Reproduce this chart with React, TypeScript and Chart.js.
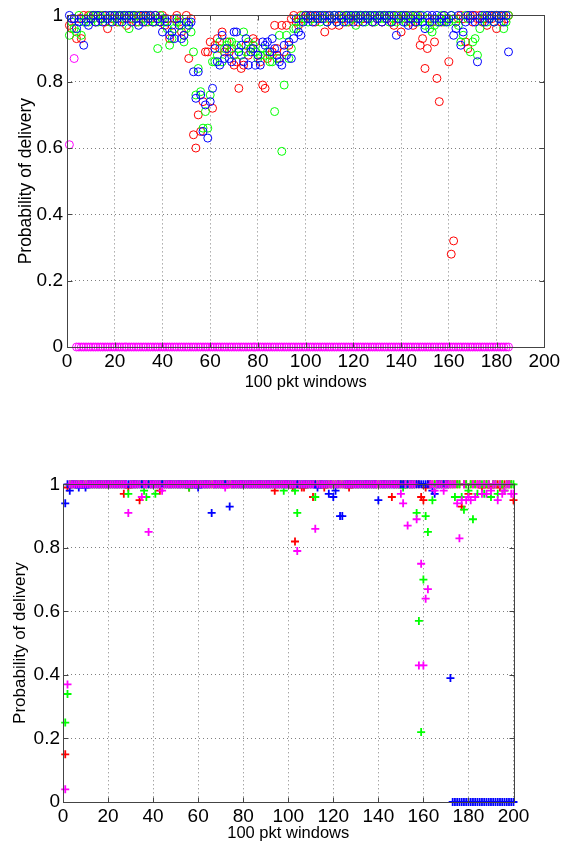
import React, { useEffect, useRef } from 'react';
import { Chart, registerables } from 'chart.js';
Chart.register(...registerables);

const X_TICKS = [0, 20, 40, 60, 80, 100, 120, 140, 160, 180, 200];
const X_TICK_LABELS = ['0', '20', '40', '60', '80', '100', '120', '140', '160', '180', '200'];
const Y_TICKS = [0, 0.2, 0.4, 0.6, 0.8, 1];
const Y_TICK_LABELS = ['0', '0.2', '0.4', '0.6', '0.8', '1'];
const X_TITLE = '100 pkt windows';
const Y_TITLE = 'Probability of delivery';

// Top panel (circles), windows 1..185
const TOP_RED = [
  .97,.96,.99,.93,.99,.93,1,.99,1,.99,
  1,.98,1,.99,1,.98,.96,1,.99,1,
  .98,1,.99,1,.97,1,.99,1,.98,1,
  .99,1,.98,1,.99,.98,1,.99,.98,1,
  .97,.99,.93,.97,.99,1,.98,.95,.94,1,
  .87,.99,.64,.60,.70,.65,.74,.89,.89,.92,
  .72,.91,.93,.90,.95,.89,.92,.89,.90,.85,
  .86,.78,.84,.85,.91,.88,.90,.93,.92,.88,
  .86,.79,.78,.87,.88,.89,.97,.90,.87,.97,
  .89,.97,.91,.99,1,.98,.97,1,.99,1,
  1,.99,1,.98,1,.99,1,.95,1,.99,
  .97,1,.99,.97,1,.99,1,.98,1,.99,
  1,.98,1,.99,1,.99,1,.98,1,.99,
  1,.98,1,.99,1,.98,.97,1,.99,.95,
  1,.99,1,.98,.97,.98,1,.91,.93,.84,
  .90,.99,.98,.92,.81,.74,.98,1,.99,.86,
  .28,.32,.98,.99,1,.99,.92,.90,1,.98,
  1,.99,1,.98,.99,.97,1,.99,1,.96,
  1,.98,1,.99,1,
];
const TOP_GREEN = [
  .94,.98,.96,.95,1,.94,.98,.99,.98,1,
  .99,1,.98,1,.99,1,.99,.98,1,.99,
  1,.98,1,.99,1,.96,1,.99,1,.98,
  1,.99,1,.98,1,.99,.98,.90,1,.99,
  .98,.96,.91,.93,.96,.98,.99,.97,.92,.96,
  .98,.95,.89,.76,.84,.77,.66,.71,.66,.76,
  .86,.86,.88,.92,.86,.90,.91,.92,.92,.88,
  .91,.90,.88,.95,.89,.92,.90,.91,.89,.87,
  .88,.90,.88,.89,.86,.86,.71,.87,.94,.59,
  .79,.94,.87,.90,.96,.96,.99,.98,1,.99,
  .98,1,.99,1,.99,.98,1,.99,.98,1,
  .99,1,.98,1,.99,1,.98,1,.99,1,
  .97,1,.99,1,.98,1,.99,1,.98,1,
  .99,1,.99,1,.98,1,.99,.98,1,.99,
  1,.98,.99,1,.99,1,.98,.99,1,.97,
  .99,.96,.95,.97,.98,.99,1,.98,.99,.98,
  1,.99,.98,.97,.92,.94,1,.99,.89,.92,
  .93,.88,.96,.99,1,.98,.99,1,.98,1,
  .99,1,.96,.98,1,
];
const TOP_BLUE = [
  1,.99,.99,.96,.98,.99,.91,.98,.97,.99,
  1,.98,1,.99,.98,1,.99,1,.98,1,
  .99,1,.98,1,.99,1,.98,1,.99,.97,
  1,.98,1,.99,1,.98,1,.99,.98,.95,
  .99,.98,.94,.95,.93,.99,.97,.93,.94,.98,
  .97,.98,.83,.75,.83,.76,.65,.73,.63,.74,
  .78,.90,.86,.85,.94,.87,.90,.87,.86,.95,
  .95,.89,.91,.86,.93,.85,.89,.90,.85,.88,
  .85,.92,.91,.92,.89,.93,.90,.88,.86,.85,
  .91,.88,.92,.87,.93,.99,.95,.94,.98,1,
  .99,1,.98,1,.99,1,.99,1,.98,1,
  .99,1,.98,1,.99,.98,1,.99,1,.98,
  1,.99,1,.98,1,.99,1,.98,1,.99,
  1,.98,1,.99,1,.98,1,.94,.99,1,
  .98,1,.97,.99,1,.98,.99,1,.98,.96,
  1,.98,1,.99,1,.98,.99,1,.98,.99,
  1,.94,.96,1,.91,.95,.98,1,.99,1,
  .98,.86,.99,1,.98,1,.99,1,.98,1,
  .99,1,.98,1,.89,
];
const TOP_MAGENTA = [
  .61,null,.87,0,0,0,0,0,0,0, 0,0,0,0,0,0,0,0,0,0,
  0,0,0,0,0,0,0,0,0,0, 0,0,0,0,0,0,0,0,0,0,
  0,0,0,0,0,0,0,0,0,0, 0,0,0,0,0,0,0,0,0,0,
  0,0,0,0,0,0,0,0,0,0, 0,0,0,0,0,0,0,0,0,0,
  0,0,0,0,0,0,0,0,0,0, 0,0,0,0,0,0,0,0,0,0,
  0,0,0,0,0,0,0,0,0,0, 0,0,0,0,0,0,0,0,0,0,
  0,0,0,0,0,0,0,0,0,0, 0,0,0,0,0,0,0,0,0,0,
  0,0,0,0,0,0,0,0,0,0, 0,0,0,0,0,0,0,0,0,0,
  0,0,0,0,0,0,0,0,0,0, 0,0,0,0,0,0,0,0,0,0,
  0,0,0,0,0,
];

// Bottom panel (plus markers), windows 1..200
const BOT_RED = [
  .15,.99,1,1,1,1,1,1,1,1,  1,1,1,1,1,1,1,1,1,1,
  1,1,1,1,1,1,.97,1,.99,1,  1,1,1,.95,1,1,1,1,1,1,
  1,1,.98,1,1,1,1,1,1,1,  1,1,1,1,1,.99,1,1,1,1,
  1,1,1,1,1,1,1,1,1,1,  1,1,1,1,1,1,1,1,1,1,
  1,1,1,1,1,1,1,1,1,1,  1,1,1,.98,1,1,1,1,1,1,
  1,.99,.82,1,1,.99,.99,1,1,1,  .96,1,1,1,1,.99,1,1,1,1,
  1,1,1,1,1,1,.99,1,1,1,  1,1,1,1,1,1,1,1,1,1,
  1,1,1,1,1,.96,1,1,1,1,  1,1,1,1,1,1,1,1,.96,.95,
  .99,1,1,1,1,1,1,1,1,1,  1,1,1,1,1,1,.93,1,1,.97,
  1,1,1,1,1,.99,1,1,1,.99,  1,1,1,.99,1,1,1,1,1,.95,
];
const BOT_GREEN = [
  .25,.34,1,1,1,1,1,1,1,1,  1,1,1,1,1,1,1,1,1,1,
  1,1,1,1,1,1,1,1,.97,1,  1,1,1,1,1,.98,.96,1,1,1,
  .97,1,1,1,1,1,1,1,1,1,  1,1,1,1,1,.99,1,1,1,1,
  1,1,1,1,1,1,1,1,1,1,  1,1,1,1,1,1,1,1,1,1,
  1,1,1,1,1,1,1,1,1,1,  1,1,1,1,1,1,1,.98,1,1,
  1,1,.98,.91,1,1,1,1,1,1,  1,.96,1,1,1,1,1,1,1,1,
  1,1,1,1,1,1,1,1,1,1,  1,1,1,1,1,1,1,1,1,1,
  1,1,1,1,1,1,1,1,1,1,  .99,1,1,1,1,1,.91,.57,.22,.70,
  .90,.85,1,.95,1,1,1,1,1,1,  1,1,1,.96,1,1,.96,.92,1,.98,
  1,.89,1,.97,1,1,.97,1,1,.96,  1,1,.97,1,1,.98,1,1,1,1,
];
const BOT_BLUE = [
  .94,1,.98,1,1,1,.99,1,1,.99,  1,1,1,1,1,1,1,1,1,1,
  1,1,1,1,1,1,1,1,1,1,  1,1,1,1,1,1,1,1,1,1,
  1,1,1,1,1,1,1,1,1,1,  1,1,1,1,1,1,1,1,1,.99,
  1,1,1,1,1,.91,1,1,1,1,  1,1,1,.93,1,1,1,1,1,1,
  1,1,1,1,1,1,1,1,1,1,  1,1,1,1,1,1,1,1,1,1,
  1,1,1,1,1,1,1,1,1,1,  1,1,.99,1,1,1,1,.97,1,.96,
  .98,1,.90,.90,1,1,1,1,1,1,  1,1,1,1,1,1,1,1,1,.95,
  1,1,1,1,1,1,1,1,1,1,  1,1,1,1,1,1,1,1,1,1,
  1,1,1,.98,.97,1,1,1,1,1,  1,.39,0,0,0,0,0,0,0,0,
  0,0,0,0,0,0,0,0,0,0,  0,0,0,0,0,0,0,0,0,0,
];
const BOT_MAGENTA = [
  .04,.37,1,1,1,1,1,1,1,1,  1,1,1,1,1,1,1,1,1,1,
  1,1,1,1,1,1,1,1,.91,1,  1,1,1,1,.96,1,1,.85,1,1,
  1,1,1,.98,1,1,1,1,1,1,  1,1,1,1,1,1,1,1,1,1,
  1,1,1,1,1,1,1,1,1,1,  1,.99,1,1,1,1,1,1,1,1,
  1,1,1,1,1,1,1,1,1,1,  1,1,1,1,1,1,1,1,1,1,
  1,1,1,.79,1,1,1,1,1,1,  1,.86,1,1,1,1,1,1,1,1,
  1,1,1,1,1,1,1,1,1,1,  1,1,1,1,1,1,1,1,1,1,
  1,1,1,1,1,1,1,1,1,.97,  .94,1,.87,1,1,1,.89,.43,.75,.43,
  .64,.67,1,1,.98,1,1,1,.98,1,  1,1,1,1,.94,.83,.95,1,.95,.96,
  .95,1,.96,1,1,.97,1,.97,1,.98,  1,1,.95,1,.97,.98,1,1,.97,.97,
];

const FONT = "'Liberation Sans', Arial, sans-serif";
const GRID = 'rgba(0,0,0,0.5)';
const BOX = '#444';

const toPoints = (arr: (number | null)[]) =>
  arr.map((v, i) => ({ x: i + 1, y: v })).filter((p) => p.y !== null);

const boxPlugin = {
  id: 'matlabBox',
  afterDatasetsDraw(chart: any) {
    const { ctx, chartArea, scales } = chart;
    const l = Math.round(chartArea.left) + 0.5;
    const r = Math.round(chartArea.right) + 0.5;
    const t = Math.round(chartArea.top) + 0.5;
    const b = Math.round(chartArea.bottom) + 0.5;
    ctx.save();
    ctx.strokeStyle = BOX;
    ctx.lineWidth = 1;
    ctx.setLineDash([]);
    ctx.strokeRect(l, t, r - l, b - t);
    const tl = 5;
    ctx.beginPath();
    X_TICKS.forEach((v) => {
      const px = Math.round(scales.x.getPixelForValue(v)) + 0.5;
      ctx.moveTo(px, b); ctx.lineTo(px, b - tl);
      ctx.moveTo(px, t); ctx.lineTo(px, t + tl);
    });
    Y_TICKS.forEach((v) => {
      const py = Math.round(scales.y.getPixelForValue(v)) + 0.5;
      ctx.moveTo(l, py); ctx.lineTo(l + tl, py);
      ctx.moveTo(r, py); ctx.lineTo(r - tl, py);
    });
    ctx.stroke();
    ctx.restore();
  },
};

function makeConfig(opts: any) {
  const { datasets, pad, yW, xH, tickSize, yTitleSize, xTitleSize, xPad, yPad } = opts;
  return {
    type: 'scatter',
    data: { datasets },
    plugins: [boxPlugin],
    options: {
      animation: false,
      responsive: false,
      events: [],
      layout: { padding: pad },
      plugins: { legend: { display: false }, tooltip: { enabled: false } },
      scales: {
        x: {
          type: 'linear',
          min: 0,
          max: 200,
          afterBuildTicks: (s: any) => { s.ticks = X_TICKS.map((v) => ({ value: v })); },
          afterFit: (s: any) => { s.height = xH; },
          grid: { color: GRID, lineWidth: 1, drawTicks: false },
          border: { display: false, dash: [1, 3] },
          ticks: {
            padding: xPad, color: '#000', autoSkip: false, maxRotation: 0,
            font: { family: FONT, size: tickSize },
            callback: (_v: any, i: number) => X_TICK_LABELS[i],
          },
          title: { display: true, text: X_TITLE, color: '#000', padding: 0, font: { family: FONT, size: xTitleSize } },
        },
        y: {
          type: 'linear',
          min: 0,
          max: 1,
          afterBuildTicks: (s: any) => { s.ticks = Y_TICKS.map((v) => ({ value: v })); },
          afterFit: (s: any) => { s.width = yW; },
          grid: { color: GRID, lineWidth: 1, drawTicks: false },
          border: { display: false, dash: [1, 3] },
          ticks: {
            padding: yPad, color: '#000', autoSkip: false,
            font: { family: FONT, size: tickSize },
            callback: (_v: any, i: number) => Y_TICK_LABELS[i],
          },
          title: { display: true, text: Y_TITLE, color: '#000', padding: 0, font: { family: FONT, size: yTitleSize } },
        },
      },
    },
  };
}

function ds(data: any[], color: string, style: string, radius: number, bw: number) {
  return {
    data,
    showLine: false,
    pointStyle: style,
    pointRadius: radius,
    pointBorderWidth: bw,
    pointBorderColor: color,
    pointBackgroundColor: 'rgba(0,0,0,0)',
    borderColor: color,
    backgroundColor: 'rgba(0,0,0,0)',
    clip: false,
  };
}

export default function App() {
  const topRef = useRef<HTMLCanvasElement>(null);
  const botRef = useRef<HTMLCanvasElement>(null);

  useEffect(() => {
    const top = new Chart(topRef.current as any, makeConfig({
      datasets: [
        ds(toPoints(TOP_MAGENTA), '#ff00ff', 'circle', 4, 1),
        ds(toPoints(TOP_BLUE), '#0000ff', 'circle', 4, 1),
        ds(toPoints(TOP_GREEN), '#00ff00', 'circle', 4, 1),
        ds(toPoints(TOP_RED), '#ff0000', 'circle', 4, 1),
      ],
      pad: { left: 15.5, top: 13.3, right: 33.7, bottom: 28.1 },
      yW: 51.5,
      xH: 44.9,
      tickSize: 19,
      yTitleSize: 17.5,
      xTitleSize: 16.5,
      xPad: 3,
      yPad: 4,
    }) as any);
    const bot = new Chart(botRef.current as any, makeConfig({
      datasets: [
        ds(toPoints(BOT_MAGENTA), '#ff00ff', 'cross', 4, 1.8),
        ds(toPoints(BOT_BLUE), '#0000ff', 'cross', 4, 1.8),
        ds(toPoints(BOT_GREEN), '#00ff00', 'cross', 4, 1.8),
        ds(toPoints(BOT_RED), '#ff0000', 'cross', 4, 1.8),
      ],
      pad: { left: 10.5, top: 64.3, right: 64.5, bottom: 3.1 },
      yW: 52.5,
      xH: 40.9,
      tickSize: 19,
      yTitleSize: 17,
      xTitleSize: 16.5,
      xPad: 3,
      yPad: 3,
    }) as any);
    return () => { top.destroy(); bot.destroy(); };
  }, []);

  return (
    <div style={{ position: 'absolute', left: 0, top: 0, width: 578, height: 846, background: '#fff' }}>
      <canvas ref={topRef} width={578} height={420} style={{ position: 'absolute', left: 0, top: 0 }} />
      <canvas ref={botRef} width={578} height={426} style={{ position: 'absolute', left: 0, top: 420 }} />
    </div>
  );
}
